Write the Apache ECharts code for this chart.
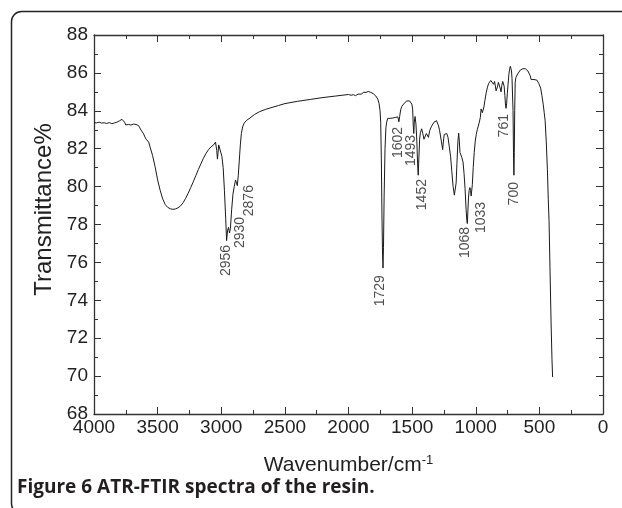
<!DOCTYPE html>
<html>
<head>
<meta charset="utf-8">
<script src="https://cdn.jsdelivr.net/npm/echarts@6/dist/echarts.min.js"></script>
<style>
html,body{margin:0;padding:0;background:#fff;}
#chart{width:622px;height:508px;}
</style>
</head>
<body>
<div id="chart"></div>
<script>
// ATR-FTIR spectrum: [wavenumber (cm-1), transmittance (%)]
const spectrum = [
[4000,83.38],[3980,83.36],[3960,83.40],[3940,83.35],[3920,83.37],[3900,83.33],[3880,83.38],[3860,83.32],[3840,83.36],[3820,83.40],
[3800,83.47],[3790,83.52],[3780,83.55],[3770,83.50],[3760,83.40],[3750,83.25],[3740,83.18],[3730,83.28],[3720,83.32],[3710,83.25],
[3700,83.33],[3690,83.30],[3680,83.36],[3670,83.28],[3660,83.35],[3650,83.22],[3640,83.10],[3630,82.98],[3620,82.90],[3610,82.78],
[3600,82.62],[3590,82.50],[3580,82.42],[3570,82.35],[3560,82.10],[3540,81.65],[3520,81.05],[3500,80.35],[3480,79.80],[3460,79.35],
[3440,79.05],[3420,78.90],[3400,78.83],[3380,78.80],[3360,78.82],[3340,78.88],[3320,78.98],[3300,79.15],[3280,79.38],[3260,79.65],
[3240,79.95],[3220,80.25],[3200,80.58],[3180,80.90],[3160,81.20],[3140,81.50],[3120,81.75],[3100,81.95],[3090,82.05],[3080,82.10],
[3070,82.08],[3060,82.20],[3050,82.15],[3045,82.35],[3040,82.25],[3035,81.90],[3030,81.45],[3025,81.80],[3020,82.20],[3012,82.30],
[3005,82.10],[2995,81.60],[2985,81.00],[2975,79.80],[2965,78.30],[2958,77.15],[2950,77.70],[2943,77.85],[2935,77.55],[2928,77.80],
[2918,78.80],[2908,79.60],[2898,80.00],[2888,80.35],[2880,80.20],[2874,80.05],[2866,80.60],[2858,81.40],[2850,82.20],[2842,82.80],
[2832,83.15],[2820,83.35],[2800,83.50],[2774,83.62],[2740,83.80],[2700,83.95],[2650,84.08],[2600,84.18],[2550,84.28],[2500,84.38],
[2400,84.50],[2300,84.60],[2200,84.70],[2100,84.78],[2050,84.82],[2000,84.86],[1980,84.82],[1962,84.85],[1945,84.80],[1936,84.78],
[1925,84.88],[1910,84.92],[1900,84.88],[1890,84.95],[1880,84.98],[1870,85.03],[1862,84.97],[1855,85.05],[1845,85.02],[1836,85.06],
[1825,84.97],[1815,84.95],[1805,84.90],[1795,84.85],[1785,84.78],[1778,84.70],[1770,84.62],[1760,84.40],[1752,84.00],[1747,83.40],
[1742,81.50],[1737,78.50],[1733,76.60],[1729,75.70],[1725,76.80],[1720,79.50],[1713,82.00],[1706,83.10],[1700,83.40],[1692,83.60],
[1682,83.65],[1672,83.60],[1662,83.70],[1652,83.62],[1642,83.72],[1632,83.65],[1622,83.75],[1612,83.68],[1604,83.42],[1598,83.70],
[1590,84.05],[1582,84.22],[1572,84.30],[1562,84.40],[1552,84.45],[1542,84.52],[1530,84.58],[1520,84.52],[1511,84.48],[1502,84.35],
[1496,84.10],[1491,83.20],[1487,82.80],[1483,83.40],[1477,83.70],[1470,83.30],[1463,82.40],[1457,81.20],[1452,80.60],[1447,81.50],
[1441,82.50],[1435,82.85],[1425,83.05],[1416,82.80],[1407,82.50],[1398,82.60],[1388,82.80],[1380,82.75],[1372,82.60],[1362,82.95],
[1350,83.15],[1340,83.25],[1328,83.40],[1318,83.45],[1308,83.48],[1300,83.40],[1292,83.20],[1284,82.95],[1276,82.85],[1268,82.30],
[1260,81.95],[1254,82.40],[1248,82.75],[1238,82.82],[1228,82.80],[1218,82.60],[1208,82.10],[1198,81.60],[1188,80.80],[1178,80.00],
[1168,79.55],[1160,79.50],[1154,80.20],[1148,81.20],[1140,82.40],[1134,82.82],[1129,82.40],[1124,81.80],[1118,81.70],[1110,81.55],
[1100,81.30],[1092,80.70],[1084,79.90],[1076,78.80],[1070,78.20],[1066,78.05],[1062,78.70],[1057,79.40],[1052,79.80],[1046,79.95],
[1041,79.80],[1036,79.50],[1032,79.45],[1027,80.10],[1020,81.00],[1012,81.80],[1004,82.40],[996,82.75],[988,83.00],[980,83.20],
[972,83.40],[964,83.65],[958,84.10],[953,84.20],[948,83.90],[942,83.80],[936,84.20],[928,84.55],[918,84.95],[908,85.25],
[898,85.45],[890,85.55],[882,85.60],[875,85.50],[868,85.62],[860,85.40],[852,85.55],[846,85.45],[840,85.05],[835,85.00],
[828,85.30],[822,85.50],[815,85.60],[808,85.20],[801,85.00],[795,85.35],[788,85.55],[783,85.62],[777,85.30],[771,84.80],
[766,84.30],[762,84.13],[757,84.40],[752,84.90],[746,85.40],[740,85.90],[734,86.20],[728,86.35],[723,86.38],[719,86.10],
[715,85.70],[711,85.60],[707,84.00],[703,81.50],[700,80.60],[697,81.80],[694,84.00],[690,85.50],[685,85.75],[678,85.85],
[670,85.95],[660,86.05],[650,86.15],[640,86.20],[630,86.22],[620,86.24],[610,86.22],[600,86.18],[590,86.10],[580,86.00],
[572,85.85],[565,85.65],[558,85.55],[550,85.58],[542,85.65],[535,85.72],[528,85.70],[520,85.62],[512,85.55],[505,85.45],
[498,85.35],[490,85.20],[480,84.80],[470,84.35],[462,83.90],[455,83.50],[446,82.40],[437,80.90],[430,79.30],[424,78.20],
[416,75.50],[408,72.80],[401,70.90],[396,69.95]
];

// Peak annotations: text, anchor wavenumber, anchor transmittance (top of the rotated label)
const peakLabels = ['2956','2930','2876','1729','1602','1493','1452','1068','1033','761','700'];
const peakWn     = [2962, 2852, 2784, 1752, 1610, 1510, 1418, 1086, 955, 778, 699];
const peakT      = [76.92, 78.40, 80.08, 75.33, 83.15, 82.73, 80.40, 77.87, 79.19, 83.83, 80.24];

const xMin = 0, xMax = 4000, xInterval = 500;
const yMin = 68, yMax = 88, yInterval = 2;

const axisColor = '#333';
const textColor = '#222';
const fontFam = '"Liberation Sans", Arial, Helvetica, sans-serif';

const chart = echarts.init(document.getElementById('chart'), null, {renderer: 'canvas'});

function xAxisCfg(pos, showLabel) {
  return {
    type: 'value', position: pos, min: xMin, max: xMax, interval: xInterval, inverse: true,
    axisLine: {show: true, onZero: false, lineStyle: {color: axisColor, width: 1.3}},
    axisTick: {show: true, inside: true, length: 7, lineStyle: {color: axisColor, width: 1}},
    minorTick: {show: true, splitNumber: 2, length: 4, lineStyle: {color: axisColor, width: 1}},
    axisLabel: {show: showLabel, fontSize: 19, color: textColor, fontFamily: fontFam, margin: 4,
      formatter: v => String(v)},
    splitLine: {show: false}, minorSplitLine: {show: false}
  };
}
function yAxisCfg(pos, showLabel) {
  return {
    type: 'value', position: pos, min: yMin, max: yMax, interval: yInterval,
    axisLine: {show: true, onZero: false, lineStyle: {color: axisColor, width: 1.3}},
    axisTick: {show: true, inside: true, length: 7, lineStyle: {color: axisColor, width: 1}},
    minorTick: {show: true, splitNumber: 2, length: 4, lineStyle: {color: axisColor, width: 1}},
    axisLabel: {show: showLabel, fontSize: 19, color: textColor, fontFamily: fontFam, margin: 6,
      formatter: v => String(v)},
    splitLine: {show: false}, minorSplitLine: {show: false}
  };
}

const xBottom = Object.assign(xAxisCfg('bottom', true), {
  name: 'Wavenumber/cm{sup|-1}', nameLocation: 'middle', nameGap: 40,
  nameTextStyle: {fontSize: 21, color: textColor, fontFamily: fontFam,
    rich: {sup: {fontSize: 13, color: textColor, fontFamily: fontFam, verticalAlign: 'top', padding: [0,0,10,0]}}}
});
const yLeft = Object.assign(yAxisCfg('left', true), {
  name: 'Transmittance%', nameLocation: 'middle', nameGap: 33,
  nameTextStyle: {fontSize: 24, color: textColor, fontFamily: fontFam, padding: [0, 0, 0, 30]}
});

const option = {
  backgroundColor: '#fff',
  animation: false,
  grid: {left: 94, right: 19, top: 35, bottom: 94, containLabel: false},
  xAxis: [xBottom, xAxisCfg('top', false)],
  yAxis: [yLeft, yAxisCfg('right', false)],
  series: [
    {
      type: 'line', data: spectrum, xAxisIndex: 0, yAxisIndex: 0,
      showSymbol: false, symbol: 'none', smooth: false,
      lineStyle: {color: '#1a1a1a', width: 1},
      silent: true
    },
    {
      type: 'scatter', xAxisIndex: 0, yAxisIndex: 0, symbolSize: 0, silent: true,
      data: peakLabels.map((t, i) => [peakWn[i], peakT[i], t]),
      label: {
        show: true, position: 'inside', rotate: 90, align: 'right', verticalAlign: 'middle',
        formatter: p => p.data[2], fontSize: 14, color: textColor, fontFamily: fontFam
      },
      emphasis: {disabled: true}
    }
  ],
  graphic: [
    {type: 'rect', z: -1, silent: true,
     shape: {x: 11.5, y: 11.5, width: 640, height: 502, r: 10},
     style: {fill: 'none', stroke: '#222', lineWidth: 1.5}},
    {type: 'text', left: 17, top: 478, silent: true,
     style: {text: 'Figure 6 ATR-FTIR spectra of the resin.', fill: '#231f20',
       font: 'bold 19px "Open Sans", "Noto Sans", sans-serif'}}
  ]
};
chart.setOption(option);
</script>
</body>
</html>
